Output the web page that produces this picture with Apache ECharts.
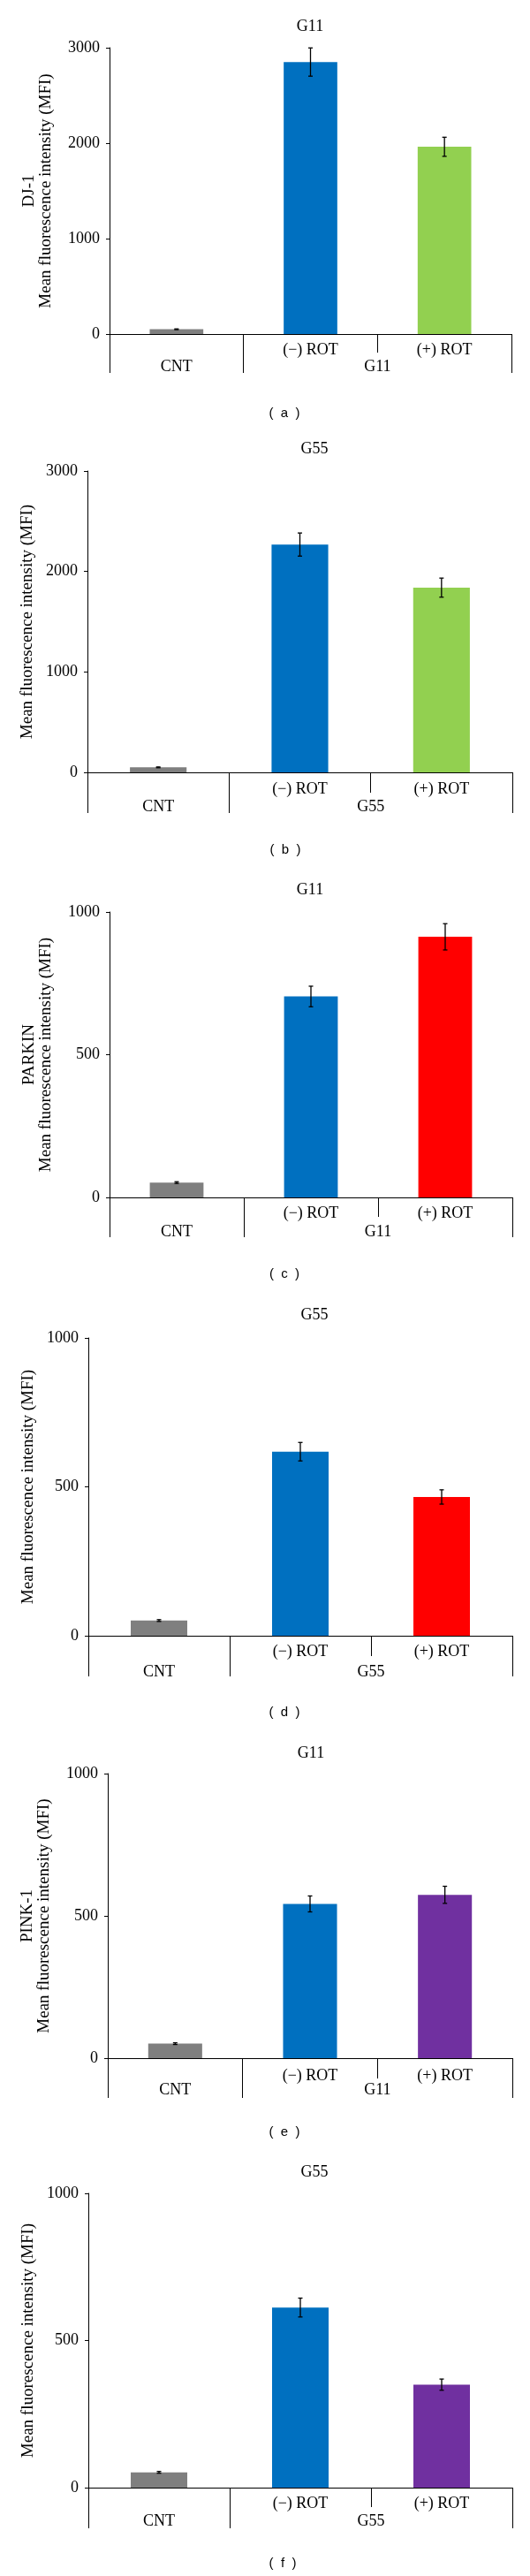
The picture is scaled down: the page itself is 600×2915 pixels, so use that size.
<!DOCTYPE html>
<html>
<head>
<meta charset="utf-8">
<script src="https://cdn.jsdelivr.net/npm/echarts@6/dist/echarts.min.js"></script>
<style>
html,body{margin:0;padding:0;background:#fff;}
#chart{width:600px;height:2915px;}
</style>
</head>
<body>
<div id="chart"></div>
<script>
// ---------- data ----------
const categories = ['CNT', '(\u2212) ROT', '(+) ROT'];
const cellLines = ['G11', 'G55', 'G11', 'G55', 'G11', 'G55'];
const markers = ['DJ-1', '', 'PARKIN', '', 'PINK-1', ''];
const panelLetters = ['a', 'b', 'c', 'd', 'e', 'f'];
const yTitle = 'Mean fluorescence intensity (MFI)';
const yMax = [3000, 3000, 1000, 1000, 1000, 1000];
const yStep = [1000, 1000, 500, 500, 500, 500];

const dj1G11Mean = [50, 2850, 1962];
const dj1G11Err = [4, 148, 100];
const dj1G55Mean = [50, 2268, 1839];
const dj1G55Err = [4, 115, 95];
const parkinG11Mean = [52, 704, 913];
const parkinG11Err = [3, 36, 46];
const parkinG55Mean = [51, 618, 466];
const parkinG55Err = [3, 31, 24];
const pink1G11Mean = [51, 542, 574];
const pink1G11Err = [3, 28, 30];
const pink1G55Mean = [52, 612, 350];
const pink1G55Err = [3, 32, 19];

const means = [dj1G11Mean, dj1G55Mean, parkinG11Mean, parkinG55Mean, pink1G11Mean, pink1G55Mean];
const errs = [dj1G11Err, dj1G55Err, parkinG11Err, parkinG55Err, pink1G11Err, pink1G55Err];

// ---------- styles / layout ----------
const GRAY = '#7F7F7F', BLUE = '#0070C0', GREEN = '#92D050', RED = '#FF0000', PURPLE = '#7030A0';
const barColors = [
  [GRAY, BLUE, GREEN], [GRAY, BLUE, GREEN],
  [GRAY, BLUE, RED], [GRAY, BLUE, RED],
  [GRAY, BLUE, PURPLE], [GRAY, BLUE, PURPLE]
];
const SERIF = '"Liberation Serif", "Times New Roman", serif';
const SANS = '"Liberation Sans", Arial, sans-serif';

const layout = [
  {left:124, top:54,   w:455, h:324, t1:21, t2:44, m1:9,  m2:28, gap:62, title:[351,30],   letter:[322,468]},
  {left:99,  top:533,  w:481, h:341, t1:23, t2:46, m1:10, m2:30, gap:58, title:[356,508],  letter:[323,962]},
  {left:124, top:1032, w:456, h:323, t1:22, t2:45, m1:9,  m2:30, gap:62, title:[351,1007], letter:[322,1442]},
  {left:100, top:1514, w:480, h:337, t1:23, t2:46, m1:9,  m2:32, gap:58, title:[356,1488], letter:[322,1938]},
  {left:122, top:2007, w:458, h:322, t1:23, t2:45, m1:11, m2:27, gap:62, title:[352,1984], letter:[322,2413]},
  {left:100, top:2482, w:480, h:333, t1:22, t2:46, m1:9,  m2:29, gap:58, title:[356,2458], letter:[320,2901]}
];

const grids = [], xAxes = [], yAxes = [], series = [], graphics = [];

layout.forEach((L, i) => {
  grids.push({left:L.left, top:L.top, width:L.w, height:L.h, containLabel:false});
  // first-level category axis
  xAxes.push({
    type:'category', gridIndex:i, data:categories, boundaryGap:true,
    axisLine:{show:true, onZero:false, lineStyle:{color:'#000', width:1}},
    axisTick:{show:true, alignWithLabel:false, interval:0, length:L.t1, lineStyle:{color:'#000', width:1}},
    axisLabel:{interval:0, margin:L.m1, color:'#000', fontFamily:SERIF, fontSize:18,
      formatter:(v, idx) => idx === 0 ? '' : v}
  });
  // second-level group axis
  const groupName = cellLines[i];
  xAxes.push({
    type:'value', gridIndex:i, min:0, max:3, position:'bottom',
    axisLine:{show:false}, splitLine:{show:false},
    axisTick:{show:true, customValues:[0, 1, 3], length:L.t2, lineStyle:{color:'#000', width:1}},
    axisLabel:{customValues:[0.5, 2], margin:L.m2, color:'#000', fontFamily:SERIF, fontSize:18,
      formatter:v => v < 1 ? categories[0] : groupName}
  });
  yAxes.push({
    type:'value', gridIndex:i, min:0, max:yMax[i], interval:yStep[i],
    axisLine:{show:true, lineStyle:{color:'#000', width:1}},
    axisTick:{show:true, length:4, lineStyle:{color:'#000'}},
    splitLine:{show:false},
    axisLabel:{margin:11, color:'#000', fontFamily:SERIF, fontSize:18, formatter:v => String(v)},
    name: markers[i] ? markers[i] + '\n' + yTitle : yTitle,
    nameLocation:'middle', nameRotate:90, nameGap:L.gap,
    nameTextStyle:{color:'#000', fontFamily:SERIF, fontSize:19, lineHeight:19}
  });
  series.push({
    type:'bar', xAxisIndex:2 * i, yAxisIndex:i, barWidth:'40%',
    data: means[i].map((v, k) => ({value:v, itemStyle:{color:barColors[i][k]}}))
  });
  series.push({
    type:'custom', xAxisIndex:2 * i, yAxisIndex:i, z:10,
    encode:{x:0, y:1},
    data: means[i].map((v, k) => [k, v, errs[i][k]]),
    renderItem:(params, api) => {
      const x = api.value(0), v = api.value(1), e = api.value(2);
      const hi = api.coord([x, v + e]);
      const lo = api.coord([x, v - e]);
      const w = 2.5;
      const st = {stroke:'#000', lineWidth:1.3};
      return {type:'group', children:[
        {type:'line', shape:{x1:hi[0], y1:hi[1], x2:lo[0], y2:lo[1]}, style:st},
        {type:'line', shape:{x1:hi[0] - w, y1:hi[1], x2:hi[0] + w, y2:hi[1]}, style:st},
        {type:'line', shape:{x1:lo[0] - w, y1:lo[1], x2:lo[0] + w, y2:lo[1]}, style:st}
      ]};
    }
  });
  graphics.push({type:'text', x:L.title[0], y:L.title[1],
    style:{text:cellLines[i], fill:'#000', font:'18px ' + SERIF, align:'center', verticalAlign:'middle'}});
  graphics.push({type:'text', x:L.letter[0], y:L.letter[1],
    style:{text:'(  ' + panelLetters[i] + '  )', fill:'#000', font:'15px ' + SANS, align:'center', verticalAlign:'middle'}});
});

const chart = echarts.init(document.getElementById('chart'), null, {renderer:'canvas'});
chart.setOption({
  animation:false,
  backgroundColor:'#fff',
  grid:grids, xAxis:xAxes, yAxis:yAxes, series:series, graphic:graphics
});
</script>
</body>
</html>
